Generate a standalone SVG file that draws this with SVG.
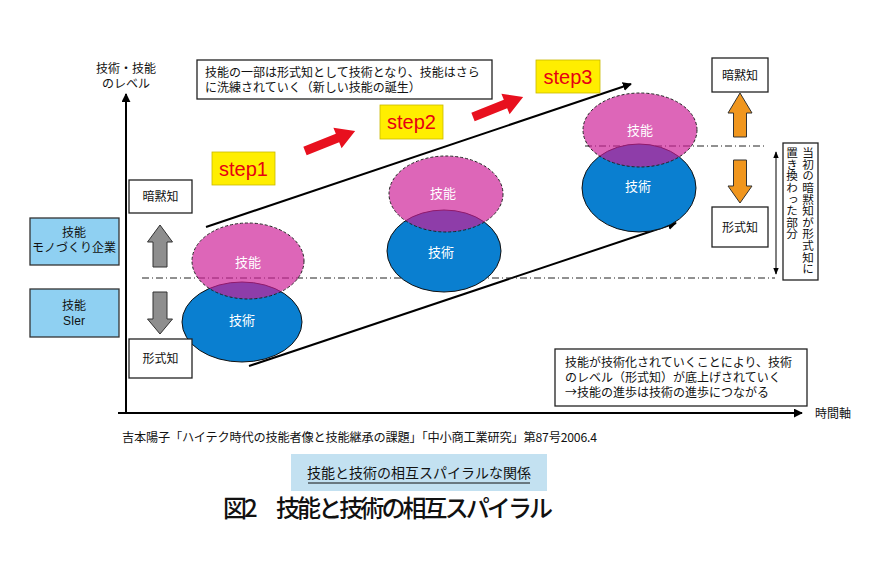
<svg xmlns="http://www.w3.org/2000/svg" width="878" height="567" viewBox="0 0 878 567">
<defs>
<style>
.jp{font-family:"Noto Sans CJK JP","Noto Sans",sans-serif;fill:#111;}
.t12{font-size:12px;}
.box{fill:#fff;stroke:#222;stroke-width:1.3;}
.lbox{fill:#8fd0f2;stroke:#333;stroke-width:1.3;}
.step{fill:#ffee00;stroke:#c9b800;stroke-width:0.8;}
.steptxt{font-family:"Liberation Sans",Arial,sans-serif;font-size:20px;fill:#e60012;text-anchor:middle;}
.blue{fill:#0a7fd0;stroke:#111;stroke-width:1;}
.pink{fill:rgb(205,30,150);fill-opacity:0.68;stroke:#222;stroke-width:1;stroke-dasharray:3,2;}
.wt{font-family:"Noto Sans CJK JP",sans-serif;font-size:13px;fill:#fff;text-anchor:middle;}
.dd{stroke:#222;stroke-width:1;stroke-dasharray:7,3,1,3;fill:none;}
.axis{stroke:#000;stroke-width:2;fill:none;}
.diag{stroke:#000;stroke-width:2;fill:none;}
.red{fill:#e8101e;stroke:none;}
.orange{fill:#f0961e;stroke:#333;stroke-width:1;}
.grey{fill:#8e8e8e;stroke:#333;stroke-width:1;}
.mid{text-anchor:middle;}
</style>
<marker id="ah" viewBox="0 0 10 10" refX="9" refY="5" markerWidth="4.5" markerHeight="4.5" orient="auto" markerUnits="strokeWidth">
<path d="M0,0 L10,5 L0,10 z" fill="#000"/>
</marker>
<marker id="ah2" viewBox="0 0 10 10" refX="9" refY="5" markerWidth="7" markerHeight="7" orient="auto-start-reverse" markerUnits="strokeWidth">
<path d="M0,1 L10,5 L0,9 z" fill="#000"/>
</marker>
</defs>
<rect width="878" height="567" fill="#fff"/>

<g id="connectors">
<line class="axis" x1="126" y1="414" x2="126" y2="94" marker-end="url(#ah)"/>
<line class="axis" x1="118" y1="413" x2="802" y2="413" marker-end="url(#ah)"/>
<line class="diag" x1="206" y1="227" x2="631" y2="84" marker-end="url(#ah)"/>
<line class="diag" x1="249" y1="366" x2="676" y2="223" marker-end="url(#ah)"/>
<line class="dd" x1="142" y1="278" x2="775" y2="278"/>
<line class="dd" x1="585" y1="146" x2="766" y2="146"/>
<line x1="776" y1="152" x2="776" y2="274" stroke="#000" stroke-width="1" marker-start="url(#ah2)" marker-end="url(#ah2)"/>
<path class="red" transform="translate(305,151) rotate(-21.8)" d="M0,-4.5 L35,-4.5 L35,-11 L54,0 L35,11 L35,4.5 L0,4.5 z"/>
<path class="red" transform="translate(473,117) rotate(-21.8)" d="M0,-4.5 L35,-4.5 L35,-11 L54,0 L35,11 L35,4.5 L0,4.5 z"/>
<path class="grey" d="M160,225 L172.5,242 L167,242 L167,267 L153,267 L153,242 L147.5,242 z"/>
<path class="grey" d="M160,334 L172.5,319 L167,319 L167,292 L153,292 L153,319 L147.5,319 z"/>
<path class="orange" d="M740,93 L752,113 L746.5,113 L746.5,137 L733.5,137 L733.5,113 L728,113 z"/>
<path class="orange" d="M740,203 L752,186 L746.5,186 L746.5,160 L733.5,160 L733.5,186 L728,186 z"/>
</g>

<g id="axis-labels">
<text class="jp t12 mid" x="126" y="72.5">技術・技能</text>
<text class="jp t12 mid" x="126" y="87.5">のレベル</text>
<text class="jp t12" x="815" y="417.5">時間軸</text>
</g>

<g id="note-top">
<rect class="box" x="197" y="60" width="295" height="39"/>
<text class="jp t12" x="205" y="76.5">技能の一部は形式知として技術となり、技能はさら</text>
<text class="jp t12" x="205" y="91.5">に洗練されていく（新しい技能の誕生）</text>
</g>

<g id="step1">
<rect class="step" x="212" y="152" width="63" height="33"/>
<text class="steptxt" x="243.5" y="175.5">step1</text>
</g>
<g id="step2">
<rect class="step" x="380" y="105" width="63" height="34"/>
<text class="steptxt" x="411.5" y="128.5">step2</text>
</g>
<g id="step3">
<rect class="step" x="536" y="60" width="64" height="33"/>
<text class="steptxt" x="568" y="83.5">step3</text>
</g>

<g id="set1">
<ellipse class="blue" cx="242" cy="322" rx="60" ry="40"/>
<ellipse class="pink" cx="248" cy="261" rx="56" ry="38"/>
<text class="wt" x="248" y="266.5">技能</text>
<text class="wt" x="242" y="325">技術</text>
</g>
<g id="set2">
<ellipse class="blue" cx="444" cy="251" rx="57" ry="41"/>
<ellipse class="pink" cx="446" cy="194" rx="57" ry="38"/>
<text class="wt" x="443" y="198">技能</text>
<text class="wt" x="441" y="256.5">技術</text>
</g>
<g id="set3">
<ellipse class="blue" cx="639" cy="188" rx="57" ry="44"/>
<ellipse class="pink" cx="640" cy="130" rx="57" ry="37"/>
<text class="wt" x="640" y="134.5">技能</text>
<text class="wt" x="638" y="190.5">技術</text>
</g>

<g id="left-tacit">
<rect class="box" x="129" y="180" width="63" height="33"/>
<text class="jp t12 mid" x="160.5" y="201">暗黙知</text>
</g>
<g id="left-explicit">
<rect class="box" x="129" y="339" width="63" height="39"/>
<text class="jp t12 mid" x="160.5" y="363">形式知</text>
</g>
<g id="right-tacit">
<rect class="box" x="712" y="58" width="56" height="34"/>
<text class="jp t12 mid" x="740" y="79.5">暗黙知</text>
</g>
<g id="right-explicit">
<rect class="box" x="712" y="207" width="56" height="40"/>
<text class="jp t12 mid" x="740" y="231.5">形式知</text>
</g>

<g id="replaced-part">
<rect class="box" x="783" y="143" width="35" height="137"/>
<text class="jp" font-size="11.6" x="808" y="147" style="writing-mode:vertical-rl">当初の暗黙知が形式知に</text>
<text class="jp" font-size="11.6" x="792" y="147" style="writing-mode:vertical-rl">置き換わった部分</text>
</g>

<g id="skill-mono">
<rect class="lbox" x="30" y="218" width="89" height="47"/>
<text class="jp t12 mid" x="74" y="236.5">技能</text>
<text class="jp t12 mid" x="74" y="251.5">モノづくり企業</text>
</g>
<g id="skill-sier">
<rect class="lbox" x="30" y="289" width="89" height="48"/>
<text class="jp t12 mid" x="74" y="310">技能</text>
<text class="jp t12 mid" x="74" y="325" style="font-family:'Liberation Sans',Arial,sans-serif">SIer</text>
</g>

<g id="note-bottom">
<rect class="box" x="555" y="349" width="252" height="57"/>
<text class="jp t12" x="565" y="367">技能が技術化されていくことにより、技術</text>
<text class="jp t12" x="565" y="382">のレベル（形式知）が底上げされていく</text>
<text class="jp t12" x="565" y="397">→技能の進歩は技術の進歩につながる</text>
</g>

<g id="source">
<text class="jp" x="122" y="441.5" font-size="12.2" textLength="475" lengthAdjust="spacing">吉本陽子「ハイテク時代の技能者像と技能継承の課題」「中小商工業研究」第87号2006.4</text>
</g>

<g id="banner">
<rect x="291" y="454" width="256" height="37" fill="#c3e1f1"/>
<text class="jp mid" x="419" y="478" font-size="14">技能と技術の相互スパイラルな関係</text>
<line x1="308" y1="483" x2="530" y2="483" stroke="#111" stroke-width="1"/>
</g>

<g id="title">
<text class="jp" x="223" y="517" font-size="24" font-weight="500" textLength="330" lengthAdjust="spacing">図2　技能と技術の相互スパイラル</text>
</g>
</svg>
